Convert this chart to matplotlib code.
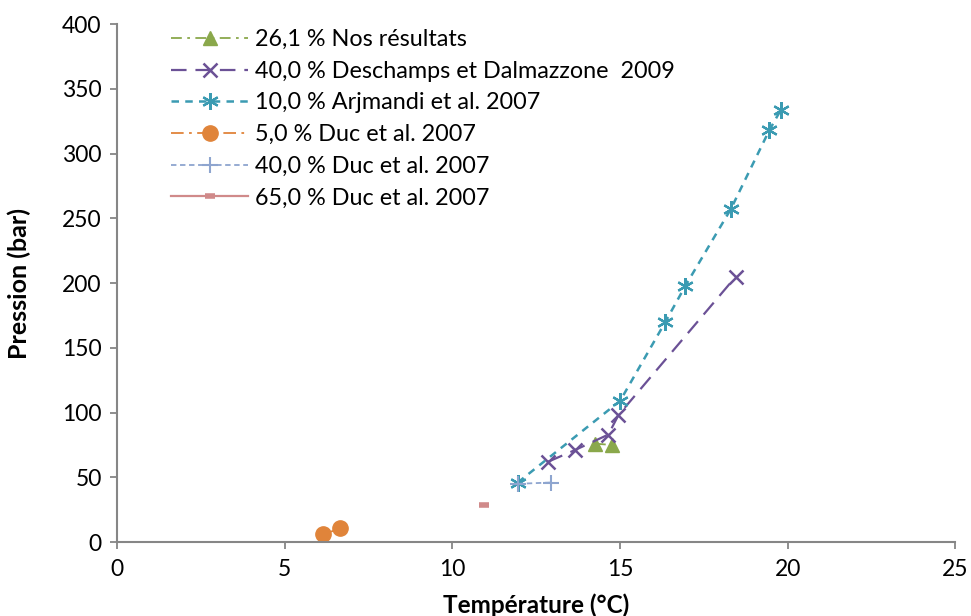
import matplotlib
matplotlib.use("Agg")
import matplotlib.pyplot as plt

plt.rcParams['font.family'] = ['Lato', 'DejaVu Sans']

# Data
nos_T = [14.25, 14.75]
nos_P = [76, 75]

desch_T = [12.85, 13.65, 14.65, 14.95, 18.45]
desch_P = [62, 71, 83, 98, 205]

arj_T = [11.95, 15.0, 16.35, 16.95, 18.3, 19.45, 19.8]
arj_P = [46, 109, 170, 198, 257, 318, 334]

duc5_T = [6.15, 6.65]
duc5_P = [6, 10.5]

duc40_T = [11.95, 12.95]
duc40_P = [45, 46]

duc65_T = [10.95]
duc65_P = [28.5]

labels = ["26,1 % Nos résultats",
          "40,0 % Deschamps et Dalmazzone  2009",
          "10,0 % Arjmandi et al. 2007",
          "5,0 % Duc et al. 2007",
          "40,0 % Duc et al. 2007",
          "65,0 % Duc et al. 2007"]

xticks = [0, 5, 10, 15, 20, 25]
yticks = [0, 50, 100, 150, 200, 250, 300, 350, 400]

fig = plt.figure(figsize=(9.71, 6.16), dpi=100)
ax = fig.add_axes([0.1205, 0.12, 0.8635, 0.841])

green = '#8aa84b'
purple = '#6b5196'
teal = '#3b9bb2'
orange = '#e0843a'
lblue = '#8ea5cf'
pink = '#d08a8a'

ax.plot(nos_T, nos_P, color=green, linestyle=(0, (6, 3, 1.5, 3)), lw=1.3,
        marker='^', ms=10, label=labels[0])
ax.plot(desch_T, desch_P, color=purple, linestyle=(0, (7, 4)), lw=1.6,
        marker='x', ms=10, mew=1.8, label=labels[1])
ax.plot(arj_T, arj_P, color=teal, linestyle=(0, (3, 2.5)), lw=1.8,
        marker=(6, 2, 0), ms=12, mew=1.6, label=labels[2])
ax.plot(duc5_T, duc5_P, color=orange, linestyle=(0, (7, 3, 1.5, 3)), lw=1.3,
        marker='o', ms=11, label=labels[3])
ax.plot(duc40_T, duc40_P, color=lblue, linestyle=(0, (3, 2)), lw=1.3,
        marker='+', ms=12, mew=1.5, label=labels[4])
ax.plot(duc65_T, duc65_P, color=pink, linestyle='-', lw=1.6,
        marker='_', ms=7, mew=4, label=labels[5])

ax.set_xlim(0, 25)
ax.set_ylim(0, 400)
ax.set_xticks(xticks)
ax.set_yticks(yticks)
for s in ['top', 'right']:
    ax.spines[s].set_visible(False)
for s in ['left', 'bottom']:
    ax.spines[s].set_color('#868686')
    ax.spines[s].set_linewidth(1.5)
ax.tick_params(axis='both', direction='out', length=5, width=1.3,
               color='#868686', labelsize=16.5, labelcolor='black')
ax.tick_params(axis='x', pad=7)
ax.tick_params(axis='y', pad=6)

ax.set_xlabel('Température (°C)', fontsize=17.5, fontweight='bold', labelpad=10)
ax.set_ylabel('Pression (bar)', fontsize=18, fontweight='bold', labelpad=22)

leg = ax.legend(loc='upper left', bbox_to_anchor=(0.045, 1.022), frameon=False,
                fontsize=16.8, handlelength=3.3, handletextpad=0.3,
                labelspacing=0.46, borderpad=0.2)

fig.savefig('out.png', dpi=100)
